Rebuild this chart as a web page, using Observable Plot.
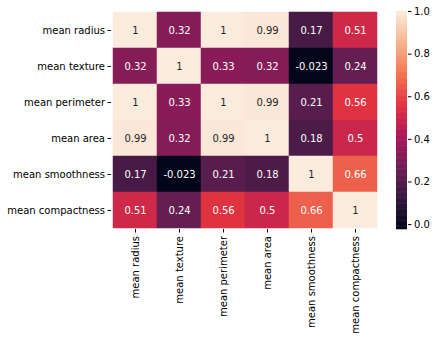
<!DOCTYPE html>
<html><head><meta charset="utf-8">
<script src="https://cdn.jsdelivr.net/npm/d3@7"></script>
<script src="https://cdn.jsdelivr.net/npm/@observablehq/plot@0.6"></script>
<style>
body{margin:0;background:#fff}
#c{position:relative;width:436px;height:340px}
#c svg{position:absolute;left:0;top:0;background:transparent}
</style>
</head><body><div id="c"></div>
<script>
const features = ["mean radius","mean texture","mean perimeter","mean area","mean smoothness","mean compactness"];
const rowRadius      = [1, 0.32, 1, 0.99, 0.17, 0.51];
const rowTexture     = [0.32, 1, 0.33, 0.32, -0.023, 0.24];
const rowPerimeter   = [1, 0.33, 1, 0.99, 0.21, 0.56];
const rowArea        = [0.99, 0.32, 0.99, 1, 0.18, 0.5];
const rowSmoothness  = [0.17, -0.023, 0.21, 0.18, 1, 0.66];
const rowCompactness = [0.51, 0.24, 0.56, 0.5, 0.66, 1];
const colorbarTicks = [0, 0.2, 0.4, 0.6, 0.8, 1.0];

const rows = [rowRadius, rowTexture, rowPerimeter, rowArea, rowSmoothness, rowCompactness];
const cells = [];
rows.forEach((r, i) => r.forEach((v, j) => cells.push({row: features[i], col: features[j], v})));

const vmin = d3.min(cells, d => d.v), vmax = d3.max(cells, d => d.v);
// seaborn "rocket" colormap stops
const rocket = ["#03051A","#35193E","#701F57","#AD1759","#E13342","#F37651","#F6B48F","#FAEBDD"];
const stopDomain = rocket.map((_, i) => vmin + (vmax - vmin) * i / (rocket.length - 1));
const colorOpts = {type: "linear", domain: stopDomain, range: rocket, interpolate: "rgb"};
const cscale = Plot.scale({color: colorOpts});
function lum(c) {
  const rgb = d3.rgb(c);
  const f = x => { x /= 255; return x <= 0.03928 ? x / 12.92 : Math.pow((x + 0.055) / 1.055, 2.4); };
  return 0.2126 * f(rgb.r) + 0.7152 * f(rgb.g) + 0.0722 * f(rgb.b);
}
const textColor = d => lum(cscale.apply(d.v)) > 0.408 ? "#262626" : "#ffffff";

const font = {fontFamily: "DejaVu Sans", fontSize: "10px", background: "transparent", overflow: "visible"};

const main = Plot.plot({
  width: 436, height: 340,
  marginLeft: 111, marginRight: 57, marginTop: 11, marginBottom: 111,
  style: font,
  x: {domain: features, padding: 0, label: null},
  y: {domain: features, padding: 0, label: null},
  color: colorOpts,
  marks: [
    Plot.cell(cells, {x: "col", y: "row", fill: "v", inset: -0.25}),
    Plot.text(cells, {x: "col", y: "row", text: d => String(d.v), fill: textColor, fontSize: 10}),
    Plot.axisX({tickRotate: -90, tickSize: 3.5, tickPadding: 3, label: null, fill: "#000", stroke: "#000"}),
    Plot.axisY({tickSize: 3.5, tickPadding: 3, label: null, fill: "#000", stroke: "#000"})
  ]
});

const nSteps = 256;
const bands = d3.range(nSteps).map(i => ({
  a: vmin + (vmax - vmin) * i / nSteps,
  b: vmin + (vmax - vmin) * (i + 1) / nSteps
}));
const bar = Plot.plot({
  width: 436, height: 340,
  marginLeft: 396, marginRight: 29, marginTop: 11, marginBottom: 111,
  style: font,
  y: {domain: [vmin, vmax], label: null},
  color: colorOpts,
  marks: [
    Plot.rect(bands, {y1: "a", y2: "b", fill: d => (d.a + d.b) / 2, insetTop: -0.3, insetBottom: -0.3}),
    Plot.axisY({anchor: "right", ticks: colorbarTicks, tickFormat: d3.format(".1f"), tickSize: 3.5, tickPadding: 3, label: null, fill: "#000", stroke: "#000"})
  ]
});

document.getElementById("c").append(main, bar);
</script>
</body></html>
